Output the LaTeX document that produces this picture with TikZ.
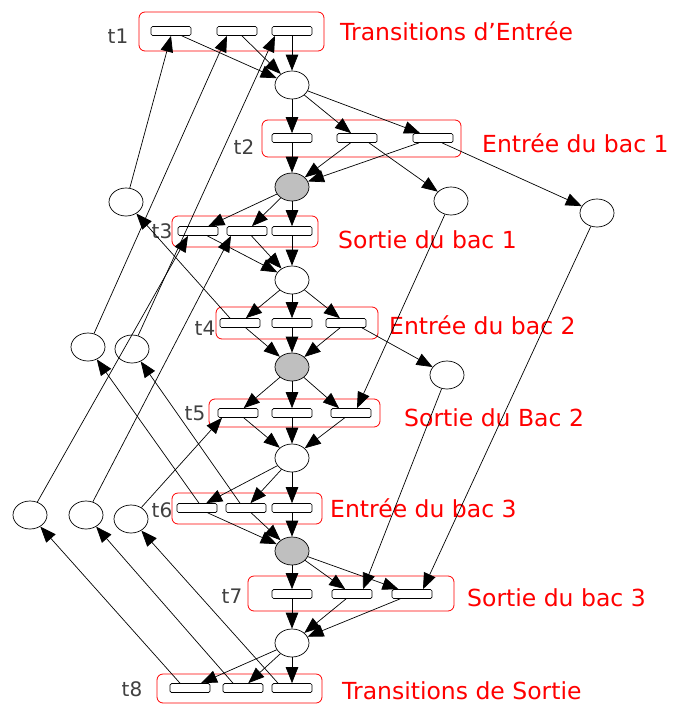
\documentclass[tikz,border=0pt]{standalone}
\usepackage{fontspec}
\setmainfont{DejaVu Sans}
\usetikzlibrary{arrows.meta,shapes.geometric}
\begin{document}
\begin{tikzpicture}[x=1pt,y=-1pt,
  place/.style={ellipse,draw,line width=0.7pt,minimum width=34pt,minimum height=28pt,inner sep=0pt,fill=white},
  gplace/.style={place,fill=black!25},
  trans/.style={draw,line width=0.7pt,rounded corners=1.5pt,minimum width=40pt,minimum height=9pt,inner sep=0pt,fill=white},
  grp/.style={draw=red,line width=0.8pt,rounded corners=6pt},
  arc/.style={-{Triangle[length=16pt,width=12.5pt]},line width=0.7pt},
  tlab/.style={text=black!75,font=\fontsize{20}{20}\selectfont,inner sep=0pt},
  rlab/.style={text=red,font=\fontsize{23.5}{23.5}\selectfont,inner sep=0pt,anchor=west}]
\useasboundingbox (0,0) rectangle (676,704);
% group boxes
\draw[grp] (139,12) rectangle (324,51);
\draw[grp] (262,120) rectangle (461,157);
\draw[grp] (172,216) rectangle (318,247);
\draw[grp] (216,307) rectangle (378,339);
\draw[grp] (209,399) rectangle (380,427);
\draw[grp] (172,493) rectangle (322,524);
\draw[grp] (248,576) rectangle (454,611);
\draw[grp] (157,674) rectangle (322,703);
% transitions
\node[trans] (T1a) at (171,31) {};
\node[trans] (T1b) at (237,31) {};
\node[trans] (T1c) at (292,31) {};
\node[trans] (T2a) at (292,138) {};
\node[trans] (T2b) at (357,138) {};
\node[trans] (T2c) at (433,138) {};
\node[trans] (T3a) at (198,231) {};
\node[trans] (T3b) at (247,231) {};
\node[trans] (T3c) at (292,231) {};
\node[trans] (T4a) at (240,323) {};
\node[trans] (T4b) at (292,323) {};
\node[trans] (T4c) at (346,323) {};
\node[trans] (T5a) at (238,413) {};
\node[trans] (T5b) at (292,413) {};
\node[trans] (T5c) at (351,413) {};
\node[trans] (T6a) at (197,508) {};
\node[trans] (T6b) at (246,508) {};
\node[trans] (T6c) at (292,508) {};
\node[trans] (T7a) at (292,594) {};
\node[trans] (T7b) at (352,594) {};
\node[trans] (T7c) at (412,594) {};
\node[trans] (T8a) at (190,688) {};
\node[trans] (T8b) at (243,688) {};
\node[trans] (T8c) at (292,688) {};
% places
\node[place] (P1) at (292,85) {};
\node[gplace] (G2) at (292,187) {};
\node[place] (P3) at (292,280) {};
\node[gplace] (G4) at (292,367) {};
\node[place] (P4) at (292,458) {};
\node[gplace] (G5) at (292,551) {};
\node[place] (P6) at (292,643) {};
\node[place] (Pa) at (126,202) {};
\node[place] (Pd) at (88,347) {};
\node[place] (Pe) at (132,349) {};
\node[place] (Pf) at (30,515) {};
\node[place] (Pg) at (86,515) {};
\node[place] (Ph) at (131,519) {};
\node[place] (Pb) at (451,201) {};
\node[place] (Pc) at (597,213) {};
\node[place] (Pi) at (447,375) {};
% labels
\node[tlab] (l1) at (118,36) {t1};
\node[tlab] (l2) at (244,147) {t2};
\node[tlab] (l3) at (162,231) {t3};
\node[tlab] (l4) at (205,328) {t4};
\node[tlab] (l5) at (195,413) {t5};
\node[tlab] (l6) at (162,510) {t6};
\node[tlab] (l7) at (232,596) {t7};
\node[tlab] (l8) at (132,689) {t8};
\node[rlab] (r1) at (340,31) {Transitions d’Entrée};
\node[rlab] (r2) at (482,143) {Entrée du bac 1};
\node[rlab] (r3) at (338,240) {Sortie du bac 1};
\node[rlab] (r4) at (389,325) {Entrée du bac 2};
\node[rlab] (r5) at (404,418) {Sortie du Bac 2};
\node[rlab] (r6) at (330,508) {Entrée du bac 3};
\node[rlab] (r7) at (467,598) {Sortie du bac 3};
\node[rlab] (r8) at (342,691) {Transitions de Sortie};
% t1
\draw[arc] (T1a) -- (P1);
\draw[arc] (T1b) -- (P1);
\draw[arc] (T1c) -- (P1);
\draw[arc] (P1) -- (T2a);
\draw[arc] (P1) -- (T2b);
\draw[arc] (P1) -- (T2c);
% t2
\draw[arc] (T2a) -- (G2);
\draw[arc] (T2b) -- (G2);
\draw[arc] (T2c) -- (G2);
\draw[arc] ([xshift=12pt]T2b.south) -- (Pb);
\draw[arc] ([xshift=9pt]T2c.south) -- (Pc);
% t3
\draw[arc] (G2) -- (T3a);
\draw[arc] (G2) -- (T3b);
\draw[arc] (G2) -- (T3c);
\draw[arc] (T3a) -- (P3);
\draw[arc] (T3b) -- (P3);
\draw[arc] (T3c) -- (P3);
% resource places to upper transitions
\draw[arc] (Pa) -- (T1a.south);
\draw[arc] (Pd) -- ([xshift=-10pt]T1b.south);
\draw[arc] (Pe) -- ([xshift=-17pt]T1c.south);
\draw[arc] (Pf) -- ([xshift=-10pt]T3a.south);
\draw[arc] (Pg) -- ([xshift=-16pt]T3b.south);
\draw[arc] (Ph) -- ([xshift=-16pt]T5a.south);
% t4
\draw[arc] (P3) -- (T4a);
\draw[arc] (P3) -- (T4b);
\draw[arc] (P3) -- (T4c);
\draw[arc] (T4a) -- (G4);
\draw[arc] (T4b) -- (G4);
\draw[arc] (T4c) -- (G4);
\draw[arc] ([xshift=-10pt]T4a.north) -- (Pa);
\draw[arc] ([xshift=16pt]T4c.south) -- (Pi);
% t5
\draw[arc] (G4) -- (T5a);
\draw[arc] (G4) -- (T5b);
\draw[arc] (G4) -- ([xshift=-12pt]T5c.north);
\draw[arc] (Pb) -- ([xshift=6pt]T5c.north);
\draw[arc] (T5a) -- (P4);
\draw[arc] (T5b) -- (P4);
\draw[arc] (T5c) -- (P4);
% t6
\draw[arc] (P4) -- (T6a);
\draw[arc] (P4) -- (T6b);
\draw[arc] (P4) -- (T6c);
\draw[arc] (T6a) -- (G5);
\draw[arc] (T6b) -- (G5);
\draw[arc] (T6c) -- (G5);
\draw[arc] ([xshift=2pt]T6a.north) -- (Pd);
\draw[arc] ([xshift=-6pt]T6b.north) -- (Pe);
% t7
\draw[arc] (G5) -- (T7a);
\draw[arc] (G5) -- (T7b);
\draw[arc] (G5) -- (T7c);
\draw[arc] (Pi) -- ([xshift=11pt]T7b.north);
\draw[arc] (Pc) -- ([xshift=11pt]T7c.north);
\draw[arc] (T7a) -- (P6);
\draw[arc] (T7b) -- (P6);
\draw[arc] (T7c) -- (P6);
% t8
\draw[arc] (P6) -- (T8a);
\draw[arc] (P6) -- (T8b);
\draw[arc] (P6) -- (T8c);
\draw[arc] ([xshift=-10pt]T8a.north) -- (Pf);
\draw[arc] ([xshift=-10pt]T8b.north) -- (Pg);
\draw[arc] ([xshift=-14pt]T8c.north) -- (Ph);
\end{tikzpicture}
\end{document}
